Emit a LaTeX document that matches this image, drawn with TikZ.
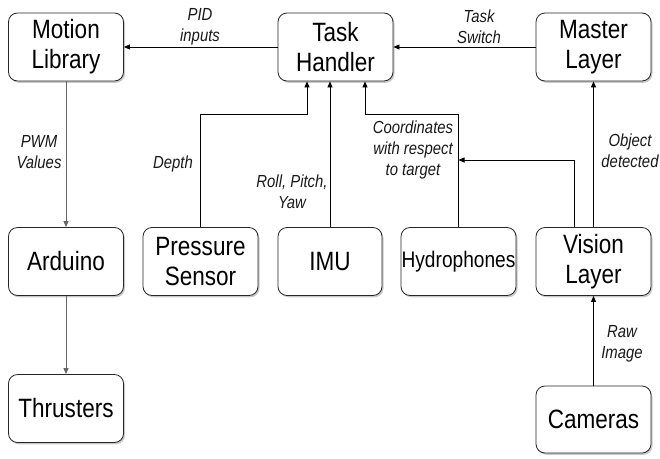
\documentclass[tikz,border=0pt]{standalone}
\usepackage{fontspec}
\setmainfont{Liberation Sans}[FakeStretch=0.85]
\usetikzlibrary{arrows.meta,shadows,calc}
\begin{document}
\begin{tikzpicture}[x=1pt,y=-1pt,
  box/.style={draw=black!85,line width=0.8pt,rounded corners=9pt,fill=white,
    minimum width=115pt,minimum height=68pt,align=center,inner sep=0pt,
    font=\fontsize{26.5}{30}\selectfont,
    drop shadow={shadow xshift=1.5pt,shadow yshift=-1.8pt,opacity=0.35,fill=black!60}},
  lbl/.style={align=center,font=\fontsize{17.5}{21}\selectfont\itshape,text=black!90,inner sep=0pt},
  arr/.style={draw=black,line width=0.8pt,-{Triangle[length=6pt,width=5pt]}},
  garr/.style={arr,draw=black!60}]
\useasboundingbox (0,0) rectangle (660,458);
\fill[white] (0,0) rectangle (660,458);
% nodes
\node[box] (ml) at (66,47) {Motion\\Library};
\node[box] (th) at (335.5,47) {Task\\Handler};
\node[box] (ms) at (593.5,47) {Master\\Layer};
\node[box] (ar) at (66,261.5) {Arduino};
\node[box] (ps) at (200.5,261.5) {Pressure\\Sensor};
\node[box,minimum width=104pt] (imu) at (330,261.5) {IMU};
\node[box,font=\fontsize{22.5}{26}\selectfont] (hy) at (458.5,261.5) {Hydrophones};
\node[box] (vl) at (593.5,261.5) {Vision\\Layer};
\node[box] (thr) at (66,408.5) {Thrusters};
\node[box,minimum height=67pt] (cam) at (593.5,419.5) {Cameras};
% coordinates
\coordinate (pb) at (307,114);
\coordinate (hb) at (365,114);
\coordinate (v1) at ([xshift=-19.5pt]vl.north);
\coordinate (hj) at (hy.north |- 0,160);
% connectors
\draw[arr] (th.west) -- (ml.east);
\draw[arr] (ms.west) -- (th.east);
\draw[garr] (ml.south) -- (ar.north);
\draw[garr] (ar.south) -- (thr.north);
\draw[arr] (ps.north) |- (pb) -- (pb |- th.south);
\draw[arr] (imu.north) -- (imu.north |- th.south);
\draw[arr] (hy.north) |- (hb) -- (hb |- th.south);
\draw[arr] (v1) |- (hj);
\draw[arr] (vl.north) -- (ms.south);
\draw[arr] (cam.north) -- (vl.south);
% labels
\node[lbl] (l1) at (200,27) {PID\\inputs};
\node[lbl] (l2) at (479,27) {Task\\Switch};
\node[lbl] (l3) at (39,152) {PWM\\Values};
\node[lbl] (l4) at (173,164) {Depth};
\node[lbl] (l5) at (292,192) {Roll, Pitch,\\Yaw};
\node[lbl] (l6) at (413,150) {Coordinates\\with respect\\to target};
\node[lbl] (l7) at (630,151) {Object\\detected};
\node[lbl] (l8) at (622,344) {Raw\\Image};
\end{tikzpicture}
\end{document}
